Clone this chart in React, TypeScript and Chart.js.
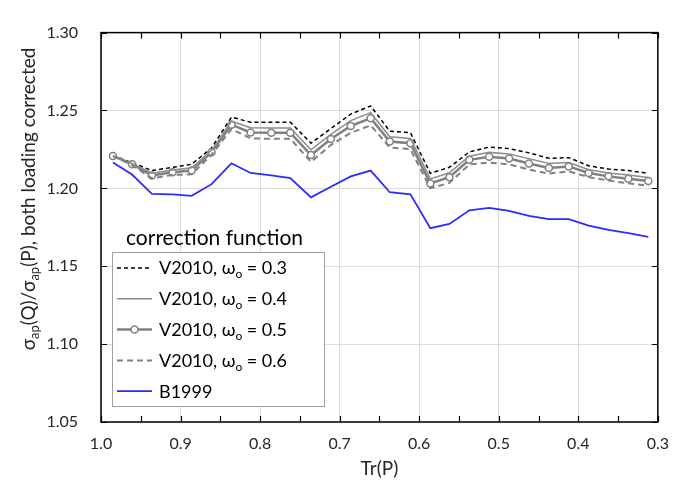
import React, { useEffect, useRef } from "react";
import { Chart, registerables } from "chart.js";
Chart.register(...registerables);

const FONT = "Lato, 'Noto Sans', sans-serif";

// Tr(P) values of the points
const trP = [0.985, 0.961, 0.936, 0.910, 0.886, 0.861, 0.836, 0.812, 0.786, 0.762, 0.736, 0.711, 0.686, 0.661, 0.637, 0.611, 0.586, 0.562, 0.537, 0.512, 0.487, 0.462, 0.437, 0.412, 0.387, 0.362, 0.337, 0.312];

const v2010w03 = [1.2210, 1.2165, 1.2114, 1.2135, 1.2155, 1.2259, 1.2457, 1.2425, 1.2425, 1.2425, 1.2290, 1.2384, 1.2477, 1.2529, 1.2367, 1.2357, 1.2097, 1.2135, 1.2234, 1.2265, 1.2255, 1.2228, 1.2193, 1.2197, 1.2145, 1.2124, 1.2114, 1.2097];
const v2010w04 = [1.2209, 1.2160, 1.2097, 1.2118, 1.2132, 1.2244, 1.2431, 1.2389, 1.2388, 1.2388, 1.2248, 1.2347, 1.2435, 1.2486, 1.2331, 1.2320, 1.2061, 1.2100, 1.2206, 1.2231, 1.2220, 1.2191, 1.2159, 1.2166, 1.2120, 1.2098, 1.2085, 1.2070];
const v2010w05 = [1.2208, 1.2155, 1.2083, 1.2104, 1.2114, 1.2232, 1.2409, 1.2359, 1.2357, 1.2357, 1.2214, 1.2317, 1.2401, 1.2450, 1.2301, 1.2290, 1.2031, 1.2072, 1.2183, 1.2203, 1.2191, 1.2160, 1.2131, 1.2141, 1.2099, 1.2077, 1.2062, 1.2047];
const v2010w06 = [1.2207, 1.2149, 1.2065, 1.2086, 1.2090, 1.2216, 1.2381, 1.2321, 1.2318, 1.2318, 1.2170, 1.2278, 1.2357, 1.2404, 1.2263, 1.2251, 1.2001, 1.2035, 1.2153, 1.2166, 1.2154, 1.2121, 1.2095, 1.2109, 1.2072, 1.2050, 1.2032, 1.2016];
const b1999 = [1.2166, 1.2089, 1.1965, 1.1962, 1.1952, 1.2027, 1.2161, 1.2099, 1.2083, 1.2066, 1.1942, 1.2010, 1.2077, 1.2114, 1.1975, 1.1962, 1.1744, 1.1772, 1.1859, 1.1875, 1.1855, 1.1823, 1.1803, 1.1803, 1.1761, 1.1734, 1.1712, 1.1688];

const xMajorTicks = [1.0, 0.9, 0.8, 0.7, 0.6, 0.5, 0.4, 0.3];
const xMinorTicks = [1.0, 0.95, 0.9, 0.85, 0.8, 0.75, 0.7, 0.65, 0.6, 0.55, 0.5, 0.45, 0.4, 0.35, 0.3];
const yTicks = [1.05, 1.10, 1.15, 1.20, 1.25, 1.30];

const legendTitle = "correction function";
const legendRows = [
  { parts: [{ t: "V2010, ω" }, { t: "o", sub: true }, { t: " = 0.3" }], kind: "w03" },
  { parts: [{ t: "V2010, ω" }, { t: "o", sub: true }, { t: " = 0.4" }], kind: "w04" },
  { parts: [{ t: "V2010, ω" }, { t: "o", sub: true }, { t: " = 0.5" }], kind: "w05" },
  { parts: [{ t: "V2010, ω" }, { t: "o", sub: true }, { t: " = 0.6" }], kind: "w06" },
  { parts: [{ t: "B1999" }], kind: "b" },
];
const yTitleParts = [
  { t: "σ" }, { t: "ap", sub: true }, { t: "(Q)/σ" }, { t: "ap", sub: true }, { t: "(P), both loading corrected" },
];
const xTitle = "Tr(P)";

const styles: any = {
  w03: { color: "#000000", width: 1.5, dash: [4, 3] },
  w04: { color: "#8c8c8c", width: 1.5, dash: [] },
  w05: { color: "#808080", width: 2.5, dash: [] },
  w06: { color: "#808080", width: 2, dash: [6, 4] },
  b: { color: "#2b2bff", width: 1.8, dash: [] },
};

type Part = { t: string; sub?: boolean };

function drawRich(ctx: CanvasRenderingContext2D, parts: Part[], x: number, y: number, size: number, align: "left" | "center", color: string) {
  const subSize = Math.round(size * 0.68);
  const widths = parts.map((p) => {
    ctx.font = `${p.sub ? subSize : size}px ${FONT}`;
    return ctx.measureText(p.t).width;
  });
  const total = widths.reduce((a, b) => a + b, 0);
  let cx = align === "center" ? x - total / 2 : x;
  ctx.textAlign = "left";
  ctx.textBaseline = "alphabetic";
  ctx.fillStyle = color;
  const base = y + size * 0.35;
  parts.forEach((p, i) => {
    ctx.font = `${p.sub ? subSize : size}px ${FONT}`;
    ctx.fillText(p.t, cx, p.sub ? base + size * 0.22 : base);
    cx += widths[i];
  });
}

const decor = {
  id: "decor",
  afterDraw(chart: any) {
    const { ctx, chartArea: a, scales } = chart;
    const xs = scales.x;
    const ys = scales.y;
    ctx.save();
    // border
    ctx.strokeStyle = "#000";
    ctx.lineWidth = 1.5;
    ctx.setLineDash([]);
    ctx.strokeRect(a.left, a.top, a.right - a.left, a.bottom - a.top);
    ctx.lineWidth = 1.2;
    ctx.beginPath();
    for (const v of xMinorTicks) {
      const px = Math.round(xs.getPixelForValue(v)) + 0.5;
      ctx.moveTo(px, a.bottom);
      ctx.lineTo(px, a.bottom - 6);
      ctx.moveTo(px, a.top);
      ctx.lineTo(px, a.top + 6);
    }
    for (const v of yTicks) {
      const py = Math.round(ys.getPixelForValue(v)) + 0.5;
      ctx.moveTo(a.left, py);
      ctx.lineTo(a.left + 6, py);
      ctx.moveTo(a.right, py);
      ctx.lineTo(a.right - 6, py);
    }
    ctx.stroke();

    // y title
    ctx.save();
    ctx.translate(28, 199);
    ctx.rotate(-Math.PI / 2);
    drawRich(ctx, yTitleParts, 0, 0, 19, "center", "#262626");
    ctx.restore();
    // x title
    drawRich(ctx, [{ t: xTitle }], (a.left + a.right) / 2, 468, 19, "center", "#262626");

    // legend
    drawRich(ctx, [{ t: legendTitle }], 126, 238, 21, "left", "#000");
    const bx = 112, by = 252, bw = 212, bh = 154;
    ctx.fillStyle = "#fff";
    ctx.fillRect(bx, by, bw, bh);
    ctx.strokeStyle = "#a0a0a0";
    ctx.lineWidth = 1;
    ctx.strokeRect(bx + 0.5, by + 0.5, bw, bh);
    legendRows.forEach((row, i) => {
      const cy = 268 + i * 30.8;
      const st = styles[row.kind];
      ctx.strokeStyle = st.color;
      ctx.lineWidth = st.width;
      ctx.setLineDash(st.dash);
      ctx.beginPath();
      ctx.moveTo(117, cy);
      ctx.lineTo(152, cy);
      ctx.stroke();
      ctx.setLineDash([]);
      if (row.kind === "w05") {
        ctx.beginPath();
        ctx.arc(134.5, cy, 3.5, 0, Math.PI * 2);
        ctx.fillStyle = "#fff";
        ctx.fill();
        ctx.lineWidth = 1.5;
        ctx.strokeStyle = "#808080";
        ctx.stroke();
      }
      drawRich(ctx, row.parts, 159, cy, 18, "left", "#000");
    });
    ctx.restore();
  },
};

function mk(vals: number[]) {
  return trP.map((x, i) => ({ x, y: vals[i] }));
}

export default function App() {
  const ref = useRef<HTMLCanvasElement>(null);
  useEffect(() => {
    const canvas = ref.current!;
    const ds = (vals: number[], kind: string, extra: any = {}) => ({
      data: mk(vals),
      borderColor: styles[kind].color,
      borderWidth: styles[kind].width,
      borderDash: styles[kind].dash,
      pointRadius: 0,
      tension: 0,
      fill: false,
      ...extra,
    });
    const chart = new Chart(canvas, {
      type: "line",
      data: {
        datasets: [
          ds(b1999, "b"),
          ds(v2010w06, "w06"),
          ds(v2010w04, "w04"),
          ds(v2010w05, "w05", {
            pointRadius: 3.5,
            pointBackgroundColor: "#ffffff",
            pointBorderColor: "#808080",
            pointBorderWidth: 1.5,
          }),
          ds(v2010w03, "w03"),
        ],
      },
      options: {
        responsive: false,
        animation: false,
        devicePixelRatio: 1,
        layout: { padding: { left: 0, right: 13, top: 21, bottom: 0 } },
        plugins: { legend: { display: false }, tooltip: { enabled: false }, title: { display: false } },
        scales: {
          x: {
            type: "linear",
            reverse: true,
            min: 0.3,
            max: 1.0,
            afterBuildTicks: (s: any) => {
              s.ticks = xMajorTicks.map((v) => ({ value: v }));
            },
            afterFit: (s: any) => {
              s.height = 62;
            },
            grid: { color: "#dcdcdc", lineWidth: 1, drawTicks: false },
            border: { display: false },
            ticks: {
              padding: 12,
              color: "#262626",
              font: { family: FONT, size: 16 },
              callback: (v: any) => Number(v).toFixed(1),
              maxRotation: 0,
            },
          },
          y: {
            type: "linear",
            min: 1.05,
            max: 1.3,
            afterBuildTicks: (s: any) => {
              s.ticks = yTicks.map((v) => ({ value: v }));
            },
            afterFit: (s: any) => {
              s.width = 101;
            },
            grid: { color: "#dcdcdc", lineWidth: 1, drawTicks: false },
            border: { display: false },
            ticks: {
              padding: 23,
              color: "#262626",
              font: { family: FONT, size: 16 },
              callback: (v: any) => Number(v).toFixed(2),
            },
          },
        },
      },
      plugins: [decor],
    } as any);
    return () => chart.destroy();
  }, []);
  return (
    <div style={{ position: "fixed", left: 0, top: 0, width: 681, height: 484, background: "#fff" }}>
      <canvas ref={ref} width={681} height={484} style={{ width: 681, height: 484 }} />
    </div>
  );
}
